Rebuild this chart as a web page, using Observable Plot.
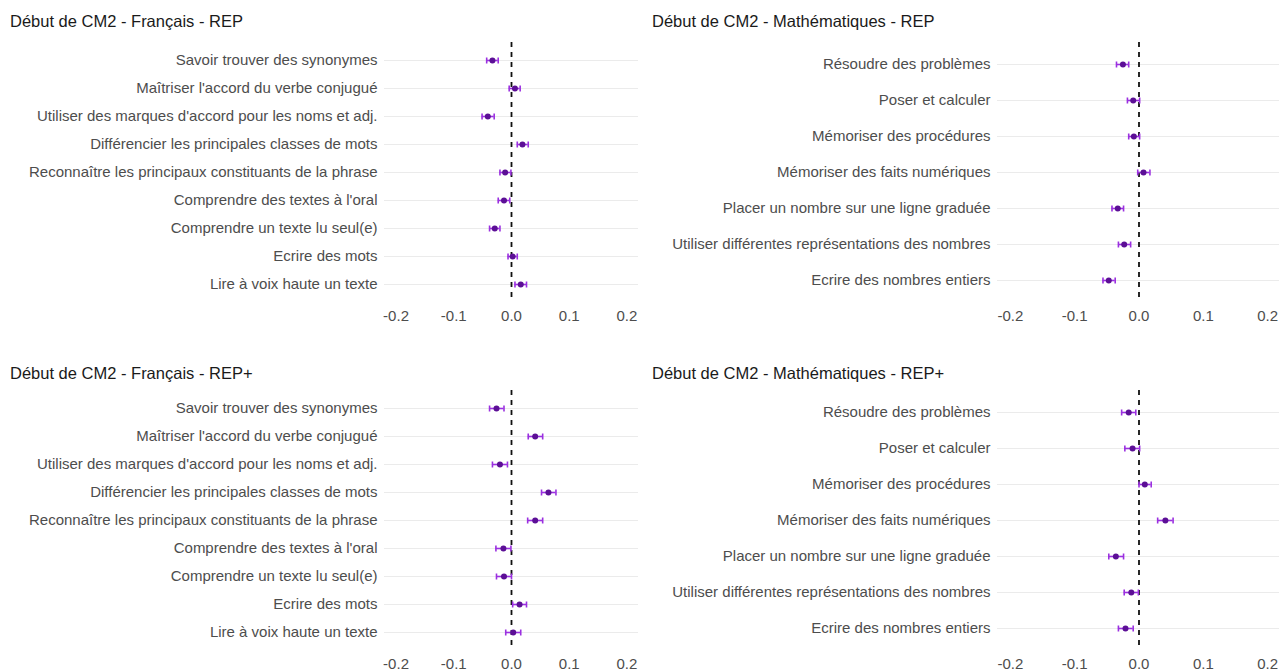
<!DOCTYPE html>
<html>
<head>
<meta charset="utf-8">
<script src="https://cdn.jsdelivr.net/npm/d3@7"></script>
<script src="https://cdn.jsdelivr.net/npm/@observablehq/plot@0.6"></script>
<style>
  html, body { margin: 0; padding: 0; background: #fff; overflow: hidden; }
  #root { position: relative; width: 1279px; height: 671px; font-family: "Liberation Sans", Arial, Helvetica, sans-serif; }
  .title { position: absolute; font-size: 16.5px; color: #1a1a1a; white-space: nowrap; }
  .panel { position: absolute; }
</style>
</head>
<body>
<div id="root"></div>
<script>
// ---- Data ----
const frCats = [
  "Savoir trouver des synonymes",
  "Maîtriser l'accord du verbe conjugué",
  "Utiliser des marques d'accord pour les noms et adj.",
  "Différencier les principales classes de mots",
  "Reconnaître les principaux constituants de la phrase",
  "Comprendre des textes à l'oral",
  "Comprendre un texte lu seul(e)",
  "Ecrire des mots",
  "Lire à voix haute un texte"
];
const mathCats = [
  "Résoudre des problèmes",
  "Poser et calculer",
  "Mémoriser des procédures",
  "Mémoriser des faits numériques",
  "Placer un nombre sur une ligne graduée",
  "Utiliser différentes représentations des nombres",
  "Ecrire des nombres entiers"
];

const frRepEst = [-0.033, 0.006, -0.041, 0.019, -0.011, -0.013, -0.029, 0.002, 0.016];
const frRepLo  = [-0.043, -0.004, -0.051, 0.010, -0.020, -0.023, -0.038, -0.006, 0.006];
const frRepHi  = [-0.023, 0.015, -0.030, 0.029, -0.001, -0.003, -0.020, 0.010, 0.026];

const mathRepEst = [-0.025, -0.009, -0.008, 0.007, -0.033, -0.023, -0.047];
const mathRepLo  = [-0.035, -0.018, -0.016, -0.002, -0.042, -0.032, -0.056];
const mathRepHi  = [-0.016, 0.001, 0.001, 0.017, -0.024, -0.013, -0.037];

const frPlusEst = [-0.026, 0.041, -0.020, 0.064, 0.041, -0.014, -0.013, 0.014, 0.003];
const frPlusLo  = [-0.038, 0.029, -0.033, 0.052, 0.028, -0.027, -0.026, 0.002, -0.010];
const frPlusHi  = [-0.013, 0.054, -0.007, 0.077, 0.054, -0.001, 0.000, 0.026, 0.016];

const mathPlusEst = [-0.016, -0.010, 0.009, 0.041, -0.036, -0.012, -0.021];
const mathPlusLo  = [-0.027, -0.022, 0.000, 0.029, -0.047, -0.023, -0.032];
const mathPlusHi  = [-0.005, 0.001, 0.019, 0.053, -0.024, -0.001, -0.009];

const xTicks = [-0.2, -0.1, 0.0, 0.1, 0.2];
const xTickLabels = ["-0.2", "-0.1", "0.0", "0.1", "0.2"];

const titles = [
  "Début de CM2 - Français - REP",
  "Début de CM2 - Mathématiques - REP",
  "Début de CM2 - Français - REP+",
  "Début de CM2 - Mathématiques - REP+"
];

// ---- Drawing ----
const capSymbol = {
  draw(context, size) {
    const h = Math.sqrt(size / Math.PI);
    context.moveTo(0, -h);
    context.lineTo(0, h);
  }
};

function panel(cats, est, lo, hi, o) {
  const rows = cats.map((c, i) => ({cat: c, est: est[i], lo: lo[i], hi: hi[i]}));
  return Plot.plot({
    width: o.width,
    height: 284,
    marginLeft: o.marginLeft,
    marginRight: o.marginRight,
    marginTop: 2,
    marginBottom: 22,
    style: {fontFamily: '"Liberation Sans", Arial, Helvetica, sans-serif', fontSize: "15px", color: "#4d4d4d", background: "transparent", overflow: "visible"},
    x: {domain: [-0.22, 0.22]},
    y: {type: "point", domain: cats, padding: 0.6},
    marks: [
      Plot.ruleY(cats, {stroke: "#ebebeb", strokeWidth: 1.1}),
      Plot.axisY({tickSize: 0, tickPadding: 7, label: null, fill: "#4d4d4d"}),
      Plot.axisX({tickSize: 0, tickPadding: 8, label: null, fill: "#4d4d4d", ticks: xTicks, tickFormat: d => xTickLabels[xTicks.indexOf(d)]}),
      Plot.ruleX([0], {stroke: "#111", strokeWidth: 1.8, strokeDasharray: "5,5"}),
      Plot.ruleY(rows, {y: "cat", x1: "lo", x2: "hi", stroke: "#9b30e0", strokeWidth: 1.6}),
      Plot.dot(rows, {y: "cat", x: "lo", symbol: capSymbol, r: 3, fill: "none", stroke: "#9b30e0", strokeWidth: 1.6}),
      Plot.dot(rows, {y: "cat", x: "hi", symbol: capSymbol, r: 3, fill: "none", stroke: "#9b30e0", strokeWidth: 1.6}),
      Plot.dot(rows, {y: "cat", x: "est", r: 3, fill: "#5c0f96", stroke: "none"})
    ]
  });
}

const root = document.getElementById("root");
function place(el, left, top) {
  el.classList.add("panel");
  el.style.left = left + "px";
  el.style.top = top + "px";
  root.appendChild(el);
}
function title(text, left, top) {
  const d = document.createElement("div");
  d.className = "title";
  d.textContent = text;
  d.style.left = left + "px";
  d.style.top = top + "px";
  root.appendChild(d);
}

title(titles[0], 10, 12);
title(titles[1], 652, 12);
title(titles[2], 10, 364);
title(titles[3], 652, 364);

place(panel(frCats, frRepEst, frRepLo, frRepHi, {width: 640, marginLeft: 384, marginRight: 2}), 0, 40);
place(panel(mathCats, mathRepEst, mathRepLo, mathRepHi, {width: 640, marginLeft: 357, marginRight: 0}), 640, 40);
place(panel(frCats, frPlusEst, frPlusLo, frPlusHi, {width: 640, marginLeft: 384, marginRight: 2}), 0, 388);
place(panel(mathCats, mathPlusEst, mathPlusLo, mathPlusHi, {width: 640, marginLeft: 357, marginRight: 0}), 640, 388);
</script>
</body>
</html>
